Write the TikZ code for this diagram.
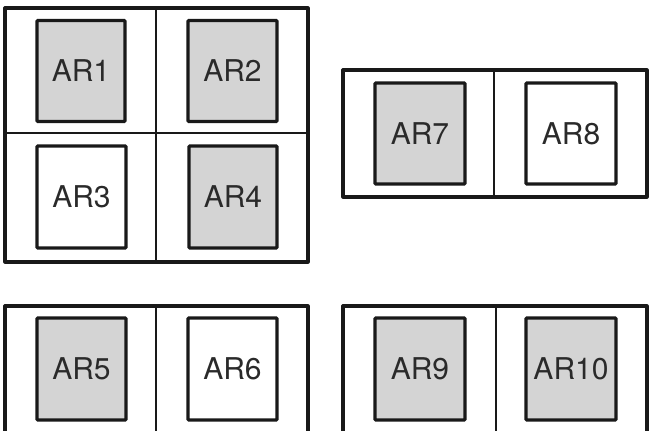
\documentclass[tikz,border=0pt]{standalone}
\usepackage{fontspec}
\setmainfont{TeX Gyre Heros}
\definecolor{boxgray}{HTML}{D4D4D4}
\definecolor{txt}{HTML}{2A2A2A}
\tikzset{
  outer/.style={draw=black!90, line width=3.2pt, line join=round},
  divider/.style={draw=black!90, line width=2.7pt},
  thindiv/.style={draw=black!90, line width=1.6pt},
  arbox/.style={draw=black!90, line width=3.2pt, rounded corners=1pt, font=\fontsize{30}{33}\selectfont, text=txt, inner sep=0pt},
  shaded/.style={arbox, fill=boxgray},
  plain/.style={arbox, fill=white},
}
\begin{document}
\begin{tikzpicture}[x=1pt,y=-1pt]
\useasboundingbox (0,0) rectangle (651,431);
\fill[white] (0,0) rectangle (651,431);
% top-left block
\draw[outer] (5,8) rectangle (308,262);
\draw[divider] (156,8) -- (156,262);
\draw[thindiv] (5,133) -- (308,133);
% top-right block
\draw[outer] (343,70) rectangle (647,197);
\draw[divider] (494,70) -- (494,197);
% bottom-left block
\draw[outer] (5,306) rectangle (308,440);
\draw[divider] (156,306) -- (156,440);
% bottom-right block
\draw[outer] (343,306) rectangle (647,440);
\draw[thindiv] (496,306) -- (496,440);
% inner boxes
\node[shaded, minimum width=88pt, minimum height=101pt] (ar1) at (81,71) {AR1};
\node[shaded, minimum width=89pt, minimum height=101pt] (ar2) at (232.5,71) {AR2};
\node[plain, minimum width=89pt, minimum height=102pt] (ar3) at (81.5,197) {AR3};
\node[shaded, minimum width=88pt, minimum height=102pt] (ar4) at (233,197) {AR4};
\node[shaded, minimum width=90pt, minimum height=101pt] (ar7) at (420,133.5) {AR7};
\node[plain, minimum width=90pt, minimum height=101pt] (ar8) at (571,133.5) {AR8};
\node[shaded, minimum width=89pt, minimum height=102pt] (ar5) at (81.5,369) {AR5};
\node[plain, minimum width=89pt, minimum height=102pt] (ar6) at (232.5,369) {AR6};
\node[shaded, minimum width=90pt, minimum height=102pt] (ar9) at (420,369) {AR9};
\node[shaded, minimum width=90pt, minimum height=102pt] (ar10) at (571,369) {AR10};
\end{tikzpicture}
\end{document}
